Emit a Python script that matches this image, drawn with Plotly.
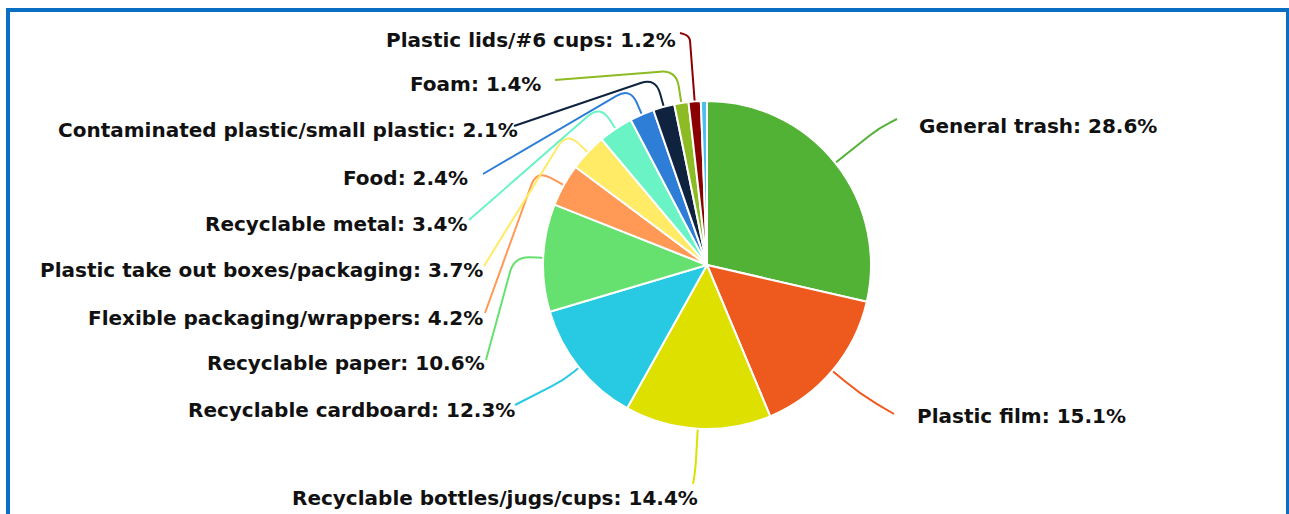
import math
import plotly.graph_objects as go

# ---------------- data ----------------
labels = [
    "General trash", "Plastic film", "Recyclable bottles/jugs/cups",
    "Recyclable cardboard", "Recyclable paper", "Flexible packaging/wrappers",
    "Plastic take out boxes/packaging", "Recyclable metal", "Food",
    "Contaminated plastic/small plastic", "Foam", "Plastic lids/#6 cups", "Other",
]
values = [28.6, 15.1, 14.4, 12.3, 10.6, 4.2, 3.7, 3.4, 2.4, 2.1, 1.4, 1.2, 0.6]
colors = [
    "#52B235", "#EE5A1E", "#DEE000", "#27C9E3", "#66E06E", "#FF9955",
    "#FFEB66", "#6AF3C5", "#2E7ED8", "#0F233F", "#8CBB23", "#8B0000", "#4DBEEE",
]

# ---------------- layout (pixels) ----------------
W, H = 1289, 514
CX, CY, R = 707, 265, 164
# text anchor (x, y, xanchor) ; None = no label
text_pos = [
    (917, 126, "left"), (915, 416, "left"), (700, 498, "right"),
    (517, 410, "right"), (487, 363, "right"), (485, 318, "right"),
    (485, 270, "right"), (470, 224, "right"), (470, 178, "right"),
    (520, 130, "right"), (543, 84, "right"), (678, 40, "right"), None,
]
knee_len = [55, 35, 40, 20, 28, 30, 28, 27, 28, 29, 32, 65, 0]
line_end = [
    (897, 119), (894, 414), (693, 484), (515, 405), (486, 360), (485, 313),
    (484, 266), (469, 220), (483, 174), (514, 126), (555, 80), (680, 33), None,
]
corner_rad = [20, 20, 12, 14, 16, 16, 16, 16, 16, 16, 16, 12, 0]

total = sum(values)


def leader_path(S, K, E, rad=12):
    def unit(a, b):
        dx, dy = b[0] - a[0], b[1] - a[1]
        d = math.hypot(dx, dy) or 1.0
        return dx / d, dy / d, d
    u1x, u1y, d1 = unit(S, K)
    u2x, u2y, d2 = unit(K, E)
    r = min(rad, d1 * 0.6, d2 * 0.6)
    A = (K[0] - u1x * r, K[1] - u1y * r)
    B = (K[0] + u2x * r, K[1] + u2y * r)
    return (f"M{S[0]:.1f},{S[1]:.1f} L{A[0]:.1f},{A[1]:.1f} "
            f"Q{K[0]:.1f},{K[1]:.1f} {B[0]:.1f},{B[1]:.1f} L{E[0]:.1f},{E[1]:.1f}")


fig = go.Figure()
fig.add_trace(go.Pie(
    labels=labels, values=values, sort=False, direction="clockwise",
    rotation=0, textinfo="none", hoverinfo="label+percent",
    marker=dict(colors=colors, line=dict(color="white", width=2)),
    domain=dict(x=[(CX - R) / W, (CX + R) / W], y=[1 - (CY + R) / H, 1 - (CY - R) / H]),
    showlegend=False,
))

shapes = []
annotations = []
cum = 0.0
for i, v in enumerate(values):
    mid = (cum + v / 2) / total * 2 * math.pi
    cum += v
    if text_pos[i] is None:
        continue
    dx, dy = math.sin(mid), -math.cos(mid)
    S = (CX + (R + 1) * dx, CY + (R + 1) * dy)
    K = (S[0] + knee_len[i] * dx, S[1] + knee_len[i] * dy)
    E = line_end[i]
    shapes.append(dict(type="path", xref="x", yref="y",
                       path=leader_path(S, K, E, corner_rad[i]),
                       line=dict(color=colors[i], width=2)))
    tx, ty, xa = text_pos[i]
    annotations.append(dict(
        x=tx, y=ty, xref="x", yref="y", xanchor=xa, yanchor="middle",
        text=f"{labels[i]}: {v}%", showarrow=False,
        font=dict(family="DejaVu Sans", size=20, color="#111111", weight="bold"),
    ))

# frame border
shapes.append(dict(type="rect", xref="x", yref="y", x0=8, x1=1288, y0=10, y1=560,
                   line=dict(color="#0A6FC2", width=4), layer="above"))

fig.update_layout(
    width=W, height=H, autosize=False,
    margin=dict(l=0, r=0, t=0, b=0),
    paper_bgcolor="white", plot_bgcolor="rgba(0,0,0,0)",
    xaxis=dict(range=[0, W], visible=False, fixedrange=True, domain=[0, 1]),
    yaxis=dict(range=[H, 0], visible=False, fixedrange=True, domain=[0, 1]),
    shapes=shapes, annotations=annotations, showlegend=False,
)

fig.write_html("out.html")
